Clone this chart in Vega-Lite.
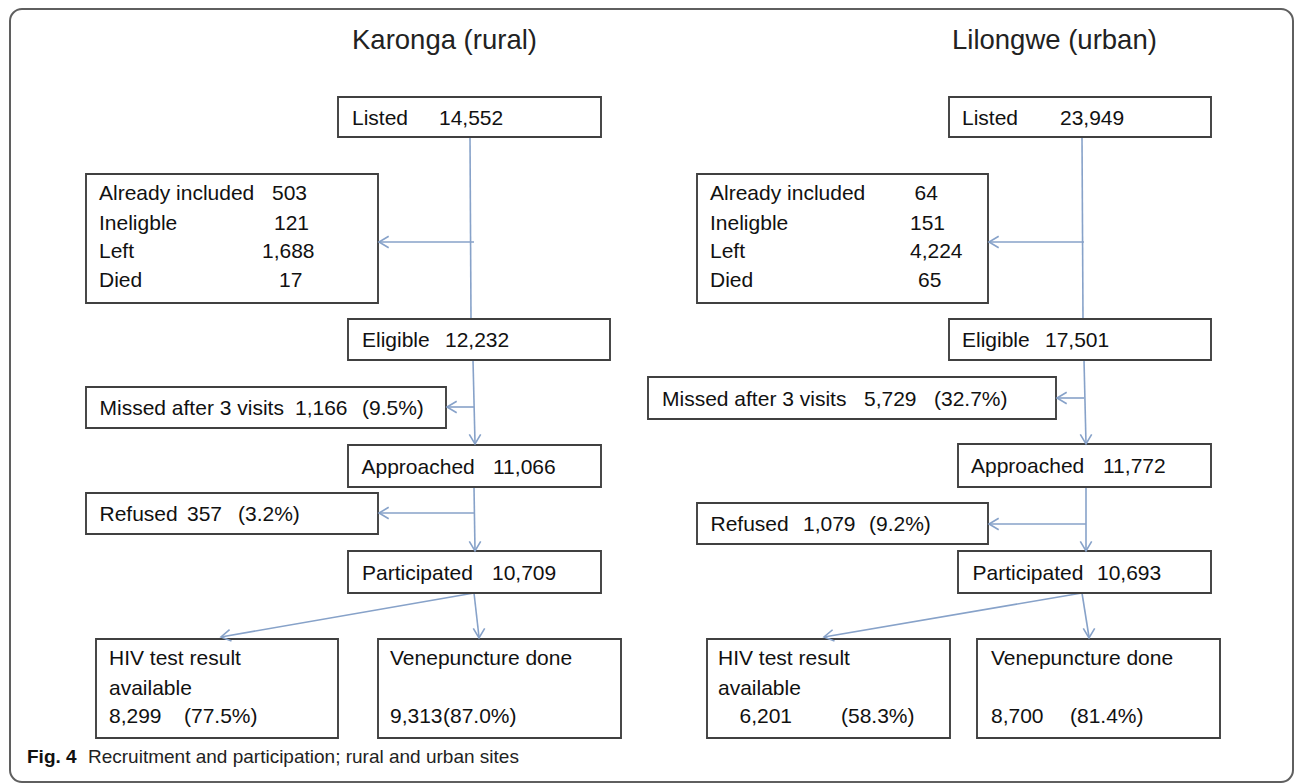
{
  "$schema": "https://vega.github.io/schema/vega-lite/v6.json",
  "width": 1295,
  "height": 784,
  "padding": 0,
  "autosize": {"type": "none"},
  "background": "white",
  "config": {"view": {"stroke": null}},
  "datasets": {
    "frame": [{"x": 10, "x2": 1293, "y": 9, "y2": 782}],
    "boxes": [
      {"id": "L1", "x": 338, "x2": 601, "y": 97, "y2": 137},
      {"id": "L2", "x": 86, "x2": 378, "y": 174, "y2": 303},
      {"id": "L3", "x": 348, "x2": 610, "y": 319, "y2": 360},
      {"id": "L4", "x": 86, "x2": 446, "y": 387, "y2": 428},
      {"id": "L5", "x": 348, "x2": 601, "y": 445, "y2": 487},
      {"id": "L6", "x": 86, "x2": 378, "y": 493, "y2": 534},
      {"id": "L7", "x": 348, "x2": 601, "y": 551, "y2": 593},
      {"id": "L8", "x": 96, "x2": 338, "y": 639, "y2": 738},
      {"id": "L9", "x": 378, "x2": 621, "y": 639, "y2": 738},
      {"id": "R1", "x": 949, "x2": 1211, "y": 97, "y2": 137},
      {"id": "R2", "x": 697, "x2": 988, "y": 174, "y2": 303},
      {"id": "R3", "x": 949, "x2": 1211, "y": 319, "y2": 360},
      {"id": "R4", "x": 648, "x2": 1056, "y": 377, "y2": 419},
      {"id": "R5", "x": 958, "x2": 1211, "y": 444, "y2": 487},
      {"id": "R6", "x": 697, "x2": 988, "y": 503, "y2": 544},
      {"id": "R7", "x": 958, "x2": 1211, "y": 551, "y2": 593},
      {"id": "R8", "x": 707, "x2": 950, "y": 639, "y2": 738},
      {"id": "R9", "x": 977, "x2": 1220, "y": 639, "y2": 738}
    ],
    "lines": [
      {"x": 470, "y": 137, "x2": 471, "y2": 319},
      {"x": 474, "y": 242, "x2": 379, "y2": 242},
      {"x": 473, "y": 360, "x2": 475, "y2": 443},
      {"x": 474, "y": 407, "x2": 447, "y2": 407},
      {"x": 474, "y": 487, "x2": 475, "y2": 551},
      {"x": 474, "y": 513, "x2": 379, "y2": 513},
      {"x": 474, "y": 593, "x2": 221, "y2": 637},
      {"x": 474, "y": 593, "x2": 479, "y2": 637},
      {"x": 1082, "y": 137, "x2": 1083, "y2": 319},
      {"x": 1084, "y": 242, "x2": 989, "y2": 242},
      {"x": 1084, "y": 360, "x2": 1086, "y2": 444},
      {"x": 1084, "y": 398, "x2": 1057, "y2": 398},
      {"x": 1086, "y": 487, "x2": 1086, "y2": 551},
      {"x": 1086, "y": 524, "x2": 989, "y2": 524},
      {"x": 1082, "y": 593, "x2": 824, "y2": 637},
      {"x": 1082, "y": 593, "x2": 1089, "y2": 637}
    ],
    "heads": [
      {"x": 379, "y": 242, "angle": 90},
      {"x": 447, "y": 407, "angle": 90},
      {"x": 475, "y": 444, "angle": 0},
      {"x": 379, "y": 513, "angle": 90},
      {"x": 475, "y": 551, "angle": 0},
      {"x": 221, "y": 637, "angle": 80.2},
      {"x": 479, "y": 638, "angle": 0},
      {"x": 989, "y": 242, "angle": 90},
      {"x": 1057, "y": 398, "angle": 90},
      {"x": 1086, "y": 444, "angle": 0},
      {"x": 989, "y": 524, "angle": 90},
      {"x": 1086, "y": 551, "angle": 0},
      {"x": 824, "y": 637, "angle": 80.4},
      {"x": 1089, "y": 638, "angle": 0}
    ],
    "texts": [
      {"x": 352, "y": 124.5, "t": "Listed"}, {"x": 439, "y": 124.5, "t": "14,552"},
      {"x": 99, "y": 200, "t": "Already included"}, {"x": 272, "y": 200, "t": "503"},
      {"x": 99, "y": 230, "t": "Ineligble"}, {"x": 274, "y": 230, "t": "121"},
      {"x": 99, "y": 258, "t": "Left"}, {"x": 262, "y": 258, "t": "1,688"},
      {"x": 99, "y": 287, "t": "Died"}, {"x": 279, "y": 287, "t": "17"},
      {"x": 362, "y": 347, "t": "Eligible"}, {"x": 445, "y": 347, "t": "12,232"},
      {"x": 99.5, "y": 415, "t": "Missed after 3 visits"}, {"x": 295, "y": 415, "t": "1,166"}, {"x": 362, "y": 415, "t": "(9.5%)"},
      {"x": 361.5, "y": 473.5, "t": "Approached"}, {"x": 493, "y": 473.5, "t": "11,066"},
      {"x": 99.5, "y": 521, "t": "Refused"}, {"x": 187, "y": 521, "t": "357"}, {"x": 238, "y": 521, "t": "(3.2%)"},
      {"x": 362, "y": 579.5, "t": "Participated"}, {"x": 492, "y": 579.5, "t": "10,709"},
      {"x": 109, "y": 665, "t": "HIV test result"}, {"x": 109, "y": 695, "t": "available"},
      {"x": 109, "y": 723, "t": "8,299"}, {"x": 184, "y": 723, "t": "(77.5%)"},
      {"x": 390, "y": 665, "t": "Venepuncture done"}, {"x": 390, "y": 723, "t": "9,313"}, {"x": 443, "y": 723, "t": "(87.0%)"},
      {"x": 962, "y": 124.5, "t": "Listed"}, {"x": 1060, "y": 124.5, "t": "23,949"},
      {"x": 710, "y": 200, "t": "Already included"}, {"x": 914.5, "y": 200, "t": "64"},
      {"x": 710, "y": 230, "t": "Ineligble"}, {"x": 910, "y": 230, "t": "151"},
      {"x": 710, "y": 258, "t": "Left"}, {"x": 910, "y": 258, "t": "4,224"},
      {"x": 710, "y": 287, "t": "Died"}, {"x": 918, "y": 287, "t": "65"},
      {"x": 962, "y": 347, "t": "Eligible"}, {"x": 1045, "y": 347, "t": "17,501"},
      {"x": 662, "y": 405.5, "t": "Missed after 3 visits"}, {"x": 864, "y": 405.5, "t": "5,729"}, {"x": 934, "y": 405.5, "t": "(32.7%)"},
      {"x": 971, "y": 473, "t": "Approached"}, {"x": 1103, "y": 473, "t": "11,772"},
      {"x": 710.5, "y": 531, "t": "Refused"}, {"x": 803, "y": 531, "t": "1,079"}, {"x": 869, "y": 531, "t": "(9.2%)"},
      {"x": 972.5, "y": 579.5, "t": "Participated"}, {"x": 1097, "y": 579.5, "t": "10,693"},
      {"x": 718, "y": 665, "t": "HIV test result"}, {"x": 718, "y": 695, "t": "available"},
      {"x": 739.5, "y": 723, "t": "6,201"}, {"x": 841, "y": 723, "t": "(58.3%)"},
      {"x": 991, "y": 665, "t": "Venepuncture done"}, {"x": 991, "y": 723, "t": "8,700"}, {"x": 1070, "y": 723, "t": "(81.4%)"}
    ],
    "titles": [
      {"x": 352, "y": 49, "t": "Karonga (rural)"},
      {"x": 952, "y": 49, "t": "Lilongwe (urban)"}
    ],
    "capbold": [{"x": 27, "y": 763, "t": "Fig. 4"}],
    "caption": [{"x": 88, "y": 763, "t": "Recruitment and participation; rural and urban sites"}]
  },
  "layer": [
    {
      "data": {"name": "frame"},
      "mark": {"type": "rect", "fill": "white", "fillOpacity": 0, "stroke": "#5f5f5f", "strokeWidth": 2, "cornerRadius": 12},
      "encoding": {
        "x": {"field": "x", "type": "quantitative", "scale": {"domain": [0, 1295], "nice": false, "zero": false}, "axis": null},
        "x2": {"field": "x2"},
        "y": {"field": "y", "type": "quantitative", "scale": {"domain": [0, 784], "nice": false, "zero": false, "reverse": true}, "axis": null},
        "y2": {"field": "y2"}
      }
    },
    {
      "data": {"name": "lines"},
      "mark": {"type": "rule", "color": "#87a2c9", "strokeWidth": 1.6},
      "encoding": {
        "x": {"field": "x", "type": "quantitative", "scale": {"domain": [0, 1295], "nice": false, "zero": false}, "axis": null},
        "x2": {"field": "x2"},
        "y": {"field": "y", "type": "quantitative", "scale": {"domain": [0, 784], "nice": false, "zero": false, "reverse": true}, "axis": null},
        "y2": {"field": "y2"}
      }
    },
    {
      "data": {"name": "boxes"},
      "mark": {"type": "rect", "fill": "white", "stroke": "#404040", "strokeWidth": 1.9},
      "encoding": {
        "x": {"field": "x", "type": "quantitative", "scale": {"domain": [0, 1295], "nice": false, "zero": false}, "axis": null},
        "x2": {"field": "x2"},
        "y": {"field": "y", "type": "quantitative", "scale": {"domain": [0, 784], "nice": false, "zero": false, "reverse": true}, "axis": null},
        "y2": {"field": "y2"}
      }
    },
    {
      "data": {"name": "heads"},
      "mark": {"type": "point", "shape": "M-1,-1.7L0,0L1,-1.7", "filled": false, "size": 130, "stroke": "#87a2c9", "strokeWidth": 1.6, "opacity": 1},
      "encoding": {
        "x": {"field": "x", "type": "quantitative", "scale": {"domain": [0, 1295], "nice": false, "zero": false}, "axis": null},
        "y": {"field": "y", "type": "quantitative", "scale": {"domain": [0, 784], "nice": false, "zero": false, "reverse": true}, "axis": null},
        "angle": {"field": "angle", "type": "quantitative", "scale": null}
      }
    },
    {
      "data": {"name": "texts"},
      "mark": {"type": "text", "align": "left", "baseline": "alphabetic", "font": "Liberation Sans", "fontSize": 21, "color": "#111111"},
      "encoding": {
        "x": {"field": "x", "type": "quantitative", "scale": {"domain": [0, 1295], "nice": false, "zero": false}, "axis": null},
        "y": {"field": "y", "type": "quantitative", "scale": {"domain": [0, 784], "nice": false, "zero": false, "reverse": true}, "axis": null},
        "text": {"field": "t"}
      }
    },
    {
      "data": {"name": "titles"},
      "mark": {"type": "text", "align": "left", "baseline": "alphabetic", "font": "Liberation Sans", "fontSize": 27.5, "color": "#222222"},
      "encoding": {
        "x": {"field": "x", "type": "quantitative", "scale": {"domain": [0, 1295], "nice": false, "zero": false}, "axis": null},
        "y": {"field": "y", "type": "quantitative", "scale": {"domain": [0, 784], "nice": false, "zero": false, "reverse": true}, "axis": null},
        "text": {"field": "t"}
      }
    },
    {
      "data": {"name": "capbold"},
      "mark": {"type": "text", "align": "left", "baseline": "alphabetic", "font": "Liberation Sans", "fontSize": 19, "fontWeight": "bold", "color": "#111111"},
      "encoding": {
        "x": {"field": "x", "type": "quantitative", "scale": {"domain": [0, 1295], "nice": false, "zero": false}, "axis": null},
        "y": {"field": "y", "type": "quantitative", "scale": {"domain": [0, 784], "nice": false, "zero": false, "reverse": true}, "axis": null},
        "text": {"field": "t"}
      }
    },
    {
      "data": {"name": "caption"},
      "mark": {"type": "text", "align": "left", "baseline": "alphabetic", "font": "Liberation Sans", "fontSize": 19, "color": "#222222"},
      "encoding": {
        "x": {"field": "x", "type": "quantitative", "scale": {"domain": [0, 1295], "nice": false, "zero": false}, "axis": null},
        "y": {"field": "y", "type": "quantitative", "scale": {"domain": [0, 784], "nice": false, "zero": false, "reverse": true}, "axis": null},
        "text": {"field": "t"}
      }
    }
  ]
}
